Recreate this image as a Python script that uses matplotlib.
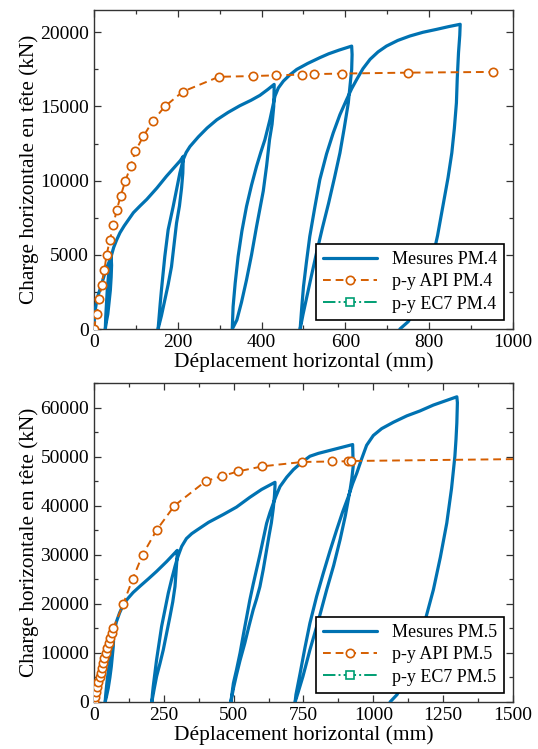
import matplotlib
matplotlib.use("Agg")
import matplotlib.pyplot as plt
from matplotlib.ticker import MultipleLocator

plt.rcParams['font.family'] = ['Liberation Serif', 'DejaVu Serif']

BLUE = "#0072B2"
ORANGE = "#D55E00"
GREEN = "#009E73"

pm4_x = [0, 1, 3, 6, 10, 14, 20, 26, 32, 38, 41,
         42, 41, 39, 36, 33, 29, 27,
         28, 30, 32, 35, 38, 42, 47, 54, 62, 72, 83, 94, 110, 126, 150, 173, 195, 206, 213,
         213, 212, 209, 204, 197, 191, 185, 177, 169, 161, 153,
         155, 158, 161, 165, 169, 177, 189, 197, 205, 213, 220, 229, 249, 270, 293, 320, 348, 375, 396, 415, 430,
         430, 429, 425, 419, 412, 404, 396, 388, 376, 364, 352, 341, 330,
         332, 337, 344, 353, 364, 376, 388, 398, 408, 420, 432, 440, 452, 467, 484, 510, 539, 560, 585, 615,
         616, 615, 611, 607, 597, 587, 574, 560, 545, 531, 519, 508, 499, 492,
         496, 500, 507, 515, 527, 539, 555, 571, 587, 603, 615, 627, 642, 659, 678, 698, 725, 754, 785, 818, 846, 874,
         873, 870, 867, 865, 860, 854, 845, 834, 820, 802, 786, 770, 750, 730]
pm4_y = [0, 800, 1300, 1800, 2300, 2640, 3200, 3760, 4250, 4660, 4850,
         4300, 3500, 2600, 1800, 1000, 400, 0,
         800, 1800, 2800, 3700, 4400, 5000, 5500, 6000, 6490, 6950, 7400, 7840, 8300, 8740, 9500, 10300, 11000, 11350, 11640,
         11500, 10500, 9500, 8300, 7140, 5700, 4210, 3000, 1960, 900, 0,
         700, 1700, 2640, 3800, 4890, 6690, 8260, 9400, 10520, 11420, 11900, 12300, 12950, 13550, 14100, 14600, 15050, 15420, 15750, 16150, 16490,
         16300, 15000, 13800, 12770, 11000, 9300, 8100, 6910, 5000, 3310, 1800, 610, 0,
         1510, 3100, 4890, 6600, 8260, 9700, 10970, 11900, 12770, 14120, 15700, 16250, 16710, 17120, 17500, 17900, 18290, 18550, 18800, 19070,
         18500, 17500, 16370, 15250, 13500, 11870, 10200, 8490, 6800, 5110, 3600, 2180, 1000, 0,
         1500, 2860, 4500, 6240, 8200, 10070, 11800, 13220, 14450, 15470, 16200, 16820, 17550, 18180, 18680, 19070, 19450, 19750, 20000, 20200, 20380, 20540,
         19800, 18630, 16900, 15250, 13500, 11870, 10200, 8490, 6300, 3990, 2500, 1400, 500, 0]

# PM.4 - p-y API
api4_x = [0, 6, 13, 18, 25, 30, 38, 46, 54, 64, 75, 88, 99, 118, 140, 169, 212, 298, 379,
          434, 496, 525, 593, 750, 953]
api4_y = [0, 1000, 2000, 3000, 4000, 5000, 6000, 7000, 8000, 9000, 10000, 11000, 12000,
          13000, 14000, 15000, 16000, 17000, 17050, 17100, 17150, 17180, 17220, 17280, 17330]

# PM.5 - mesures (cyclic loading)
pm5_x = [0, 4, 10, 16, 21, 30, 39, 48, 57, 66, 70,
         69, 66, 62, 57, 51, 45, 40,
         42, 46, 51, 57, 62, 67, 72, 80, 92, 105, 120, 140, 165, 195, 224, 260, 298,
         298, 296, 293, 290, 282, 272, 260, 248, 236, 224, 215, 207,
         209, 212, 218, 224, 233, 242, 254, 266, 278, 290, 298, 305, 314, 331, 350, 368, 410, 463, 510, 558, 600, 630, 648,
         648, 646, 642, 635, 627, 618, 606, 594, 582, 570, 555, 540, 523, 510, 500, 490,
         493, 499, 510, 523, 535, 547, 558, 570, 582, 594, 606, 618, 630, 642, 652, 666, 690, 714, 743, 773, 803, 833, 880, 926,
         927, 928, 923, 917, 900, 881, 858, 833, 803, 773, 748, 730, 720,
         723, 738, 755, 773, 797, 821, 845, 869, 890, 911, 926, 941, 958, 976, 1000, 1030, 1072, 1120, 1167, 1215, 1260, 1299,
         1301, 1300, 1299, 1296, 1292, 1280, 1263, 1240, 1215, 1185, 1155, 1115, 1085, 1060]
pm5_y = [0, 1200, 2600, 3800, 4800, 6400, 7890, 9300, 10610, 12000, 12500,
         11300, 9500, 7200, 5000, 2800, 1200, 0,
         1500, 3800, 6200, 8500, 10300, 12300, 14300, 16300, 18200, 19800, 21000, 22300, 23600, 25100, 26600, 28600, 30880,
         30300, 28300, 26000, 23530, 20400, 17410, 14000, 10610, 7800, 5170, 2500, 0,
         1500, 3130, 5900, 8570, 12000, 15370, 18800, 22180, 25000, 27620, 29200, 30340, 31700, 33300, 34300, 35000, 36600, 38200, 39700, 41700, 43300, 44200, 44760,
         44000, 42000, 39500, 36500, 34000, 31000, 27000, 23500, 21000, 18800, 15500, 12000, 8500, 5500, 3000, 0,
         1300, 3810, 6500, 10000, 13800, 17400, 20800, 24000, 27000, 30000, 33200, 36400, 38600, 40500, 42000, 43900, 45800, 47350, 48800, 50070, 50650, 51090, 51800, 52450,
         50000, 48030, 45500, 43270, 38000, 33060, 27800, 22860, 16500, 10610, 5200, 1800, 0,
         1500, 5850, 11000, 16050, 21500, 26260, 30800, 35100, 38700, 41900, 44500, 46670, 49500, 52300, 54300, 55700, 57000, 58300, 59300, 60500, 61400, 62180,
         61000, 59000, 56870, 53500, 50070, 43500, 36460, 29500, 22860, 16500, 10610, 5000, 1500, 0]

# PM.5 - p-y API
api5_x = [0, 4, 8, 12, 16, 20, 24, 28, 32, 37, 42, 47, 52, 57, 63, 69, 105, 138, 174, 224, 288,
          400, 457, 517, 602, 746, 851, 910, 920, 2000]
api5_y = [0, 1000, 2000, 3000, 4000, 5000, 6000, 7000, 8000, 9000, 10000, 11000, 12000, 13000,
          14000, 15000, 20000, 25000, 30000, 35000, 40000, 45000, 46000, 47000, 48000, 48900,
          49000, 49050, 49100, 49800]

# p-y EC7 (legend only, no visible data in the figure)
ec7_x = []
ec7_y = []

panels = [
    dict(mx=pm4_x, my=pm4_y, px=api4_x, py=api4_y, tag="PM.4",
         xlim=(0, 1000), ylim=(0, 21500), xmaj=200, xmin=100, ymaj=5000, ymin=2500),
    dict(mx=pm5_x, my=pm5_y, px=api5_x, py=api5_y, tag="PM.5",
         xlim=(0, 1500), ylim=(0, 65000), xmaj=250, xmin=125, ymaj=10000, ymin=5000),
]

fig = plt.figure(figsize=(5.38, 7.49), dpi=100)
boxes = [[0.1747, 0.5607, 0.7788, 0.4259], [0.1747, 0.0628, 0.7788, 0.4259]]

for box, p in zip(boxes, panels):
    ax = fig.add_axes(box)
    ax.plot(p["mx"], p["my"], color=BLUE, lw=2.3, label="Mesures " + p["tag"], zorder=3,
            solid_joinstyle="round", solid_capstyle="round")
    ax.plot(p["px"], p["py"], color=ORANGE, lw=1.4, ls=(0, (4, 2.5)), marker="o", ms=6,
            mfc="white", mec=ORANGE, mew=1.2, label="p-y API " + p["tag"], zorder=4)
    ax.plot(ec7_x, ec7_y, color=GREEN, lw=1.4, ls="-.", marker="s", ms=6,
            mfc="white", mec=GREEN, mew=1.2, label="p-y EC7 " + p["tag"])
    ax.set_xlim(*p["xlim"])
    ax.set_ylim(*p["ylim"])
    ax.xaxis.set_major_locator(MultipleLocator(p["xmaj"]))
    ax.xaxis.set_minor_locator(MultipleLocator(p["xmin"]))
    ax.yaxis.set_major_locator(MultipleLocator(p["ymaj"]))
    ax.yaxis.set_minor_locator(MultipleLocator(p["ymin"]))
    ax.tick_params(which="both", direction="in", top=True, right=True, colors="#333333",
                   labelcolor="black", labelsize=14, width=0.9)
    ax.tick_params(which="major", length=5)
    ax.tick_params(which="minor", length=3)
    for s in ax.spines.values():
        s.set_color("#333333")
        s.set_linewidth(1.0)
    ax.set_xlabel("Déplacement horizontal (mm)", fontsize=15.5, labelpad=1)
    ax.set_ylabel("Charge horizontale en tête (kN)", fontsize=15.3, labelpad=1)
    leg = ax.legend(loc="lower right", fontsize=13, fancybox=False, framealpha=1,
                    edgecolor="black", handlelength=3.0, borderpad=0.4, labelspacing=0.3,
                    borderaxespad=0.5)
    leg.get_frame().set_linewidth(1.2)

fig.savefig("out.png", dpi=100)
